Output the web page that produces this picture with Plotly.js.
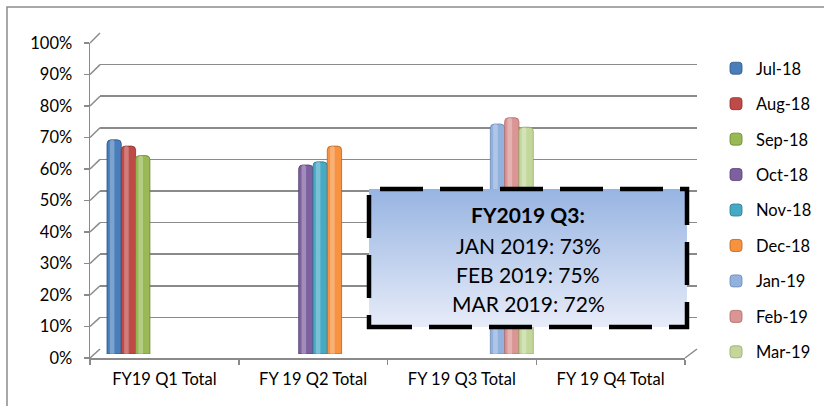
<!DOCTYPE html>
<html><head><meta charset="utf-8">
<script src="https://cdn.plot.ly/plotly-3.0.1.min.js"></script>
<style>html,body{margin:0;padding:0;background:#fff;}#chart{width:824px;height:406px;}</style>
</head><body><div id="chart"></div>
<script>
// ---- data ----
const categories = ['FY19 Q1 Total', 'FY 19 Q2 Total', 'FY 19 Q3 Total', 'FY 19 Q4 Total'];
const months = ['Jul-18', 'Aug-18', 'Sep-18', 'Oct-18', 'Nov-18', 'Dec-18', 'Jan-19', 'Feb-19', 'Mar-19'];
const monthQuarter = [0, 0, 0, 1, 1, 1, 2, 2, 2];
const values = [0.68, 0.66, 0.63, 0.60, 0.61, 0.66, 0.73, 0.75, 0.72];
const yTickVals = [0, 0.1, 0.2, 0.3, 0.4, 0.5, 0.6, 0.7, 0.8, 0.9, 1.0];
const boxTitle = 'FY2019 Q3:';
const boxLabels = ['JAN 2019', 'FEB 2019', 'MAR 2019'];
const boxMonthIdx = [6, 7, 8];

// ---- style ----
const colors = ['#4A7EBB', '#BE4B48', '#98B954', '#7D60A0', '#46AAC5', '#F69240', '#93B1DD', '#DA9694', '#C3D79B'];
const edgeColors = ['#2f5788', '#8c2f2d', '#6a8535', '#55406f', '#2c7b90', '#b8631f', '#6a89b8', '#b06a68', '#93a96c'];
const FONT = 'Lato, "Open Sans", sans-serif';
const GRID = '#8a8a8a';
const W = 824, H = 406;
const fx = p => p / W;
const fy = p => 1 - p / H;

// pixel geometry of the pseudo-3D chart
const G = {
  frontL: 90, frontR: 685, frontB: 358, frontT: 43,   // front axes (labels)
  backL: 100, backR: 697, backB: 349, backT: 33,      // back wall grid
  barL: 97, barR: 692, barB: 354, barT: 39,           // bars (mid depth)
  box: {l: 369, r: 687, t: 189, b: 327}
};
const catW = (G.barR - G.barL) / categories.length;
const gapFrac = 10 / catW;
const slotW = (1 - 2 * gapFrac) / months.length;

const traces = [];
// back wall (grid) subplot anchor
traces.push({type: 'scatter', x: [null], y: [null], xaxis: 'x', yaxis: 'y', showlegend: false, hoverinfo: 'skip'});
// front axes subplot anchor (categories for labels)
traces.push({type: 'scatter', x: categories, y: categories.map(() => null), xaxis: 'x2', yaxis: 'y2', mode: 'markers', showlegend: false, hoverinfo: 'skip'});

// bars
months.forEach((m, i) => {
  const off = -0.5 + gapFrac + i * slotW;
  traces.push({
    type: 'bar', name: m, legendgroup: 'g' + i,
    x: [categories[monthQuarter[i]]], y: [values[i]],
    xaxis: 'x3', yaxis: 'y3',
    offset: off, width: slotW,
    marker: {color: colors[i], line: {color: edgeColors[i], width: 0.8}, cornerradius: 4},
    hoverinfo: 'name+y'
  });
});
// cylinder highlight
months.forEach((m, i) => {
  const off = -0.5 + gapFrac + i * slotW;
  traces.push({
    type: 'bar', name: m + ' hl', showlegend: false, legendgroup: 'g' + i,
    x: [categories[monthQuarter[i]]], y: [values[i]],
    xaxis: 'x3', yaxis: 'y3',
    offset: off + 0.2 * slotW, width: 0.32 * slotW,
    marker: {color: 'rgba(255,255,255,0.28)', line: {width: 0}, cornerradius: 2},
    hoverinfo: 'skip'
  });
});
// callout box fill (pixel overlay subplot)
const B = G.box;
traces.push({
  type: 'scatter', xaxis: 'x4', yaxis: 'y4', mode: 'lines',
  x: [B.l, B.r, B.r, B.l, B.l], y: [B.t, B.t, B.b, B.b, B.t],
  fill: 'toself', line: {width: 0},
  fillgradient: {type: 'vertical', colorscale: [[0, '#e7ecf8'], [1, '#97b4e2']]},
  showlegend: false, hoverinfo: 'skip'
});

const shapes = [];
// outer chart border
shapes.push({type: 'rect', xref: 'paper', yref: 'paper', x0: fx(7), x1: 1.02, y0: -0.02, y1: fy(7), line: {color: '#8c8c8c', width: 1.5}});
// depth connectors from front axis ticks to back wall
yTickVals.forEach(v => {
  const yf = G.frontB - v * (G.frontB - G.frontT);
  const yb = G.backB - v * (G.backB - G.backT);
  shapes.push({type: 'line', xref: 'paper', yref: 'paper', x0: fx(G.frontL), y0: fy(yf), x1: fx(G.backL), y1: fy(yb), line: {color: GRID, width: 1.5}});
});
// floor right edge
shapes.push({type: 'line', xref: 'paper', yref: 'paper', x0: fx(G.frontR), y0: fy(G.frontB), x1: fx(G.backR), y1: fy(G.backB), line: {color: GRID, width: 1.5}});
// dashed callout border
shapes.push({type: 'rect', xref: 'paper', yref: 'paper', x0: fx(B.l), x1: fx(B.r), y0: fy(B.b), y1: fy(B.t), line: {color: '#000', width: 4.5, dash: '43px,17px'}});

const annotations = [];
annotations.push({xref: 'paper', yref: 'paper', x: fx(528), y: fy(215), text: '<b>' + boxTitle + '</b>', showarrow: false, font: {family: FONT, size: 21, color: '#000'}, xanchor: 'center', yanchor: 'middle'});
boxLabels.forEach((lab, k) => {
  annotations.push({xref: 'paper', yref: 'paper', x: fx(528), y: fy(245 + 29 * k), text: lab + ': ' + Math.round(values[boxMonthIdx[k]] * 100) + '%', showarrow: false, font: {family: FONT, size: 21, color: '#000'}, xanchor: 'center', yanchor: 'middle'});
});

const layout = {
  width: W, height: H, margin: {l: 0, r: 0, t: 0, b: 0},
  paper_bgcolor: '#fff', plot_bgcolor: 'rgba(0,0,0,0)',
  barmode: 'overlay', font: {family: FONT, color: '#000'},
  hovermode: false,
  // back wall grid
  xaxis: {domain: [fx(G.backL), fx(G.backR)], range: [0, 1], showgrid: false, zeroline: false, showticklabels: false, ticks: '', showline: false, anchor: 'y'},
  yaxis: {domain: [fy(G.backB), fy(G.backT)], range: [0, 1], tickvals: yTickVals, showgrid: true, gridcolor: GRID, gridwidth: 1.5, zeroline: false, showticklabels: false, ticks: '', showline: false, anchor: 'x'},
  // front axes with labels
  xaxis2: {domain: [fx(G.frontL), fx(G.frontR)], type: 'category', categoryarray: categories, categoryorder: 'array', range: [-0.5, categories.length - 0.5], anchor: 'y2',
    showgrid: false, zeroline: false, showline: true, linecolor: GRID, linewidth: 1.5, ticks: 'outside', tickson: 'boundaries', ticklen: 5, tickcolor: GRID, tickwidth: 1.5,
    tickfont: {family: FONT, size: 16.5, color: '#000'}, ticklabelstandoff: 6},
  yaxis2: {domain: [fy(G.frontB), fy(G.frontT)], range: [0, 1], tickvals: yTickVals, tickformat: '.0%', anchor: 'x2',
    showgrid: false, zeroline: false, showline: true, linecolor: GRID, linewidth: 1.5, ticks: 'outside', ticklen: 5, tickcolor: GRID, tickwidth: 1.5,
    tickfont: {family: FONT, size: 16.5, color: '#000'}, ticklabelstandoff: 8},
  // bars
  xaxis3: {domain: [fx(G.barL), fx(G.barR)], type: 'category', categoryarray: categories, categoryorder: 'array', range: [-0.5, categories.length - 0.5], anchor: 'y3', visible: false},
  yaxis3: {domain: [fy(G.barB), fy(G.barT)], range: [0, 1], anchor: 'x3', visible: false},
  // pixel overlay
  xaxis4: {domain: [0, 1], range: [0, W], anchor: 'y4', visible: false},
  yaxis4: {domain: [0, 1], range: [H, 0], anchor: 'x4', visible: false},
  legend: {x: fx(716), y: fy(51), xanchor: 'left', yanchor: 'top', orientation: 'v', traceorder: 'grouped', tracegroupgap: 11,
    font: {family: FONT, size: 16.5, color: '#000'}, bgcolor: 'rgba(0,0,0,0)', borderwidth: 0},
  shapes: shapes, annotations: annotations
};

Plotly.newPlot('chart', traces, layout, {displayModeBar: false, staticPlot: true});
</script>
</body></html>
